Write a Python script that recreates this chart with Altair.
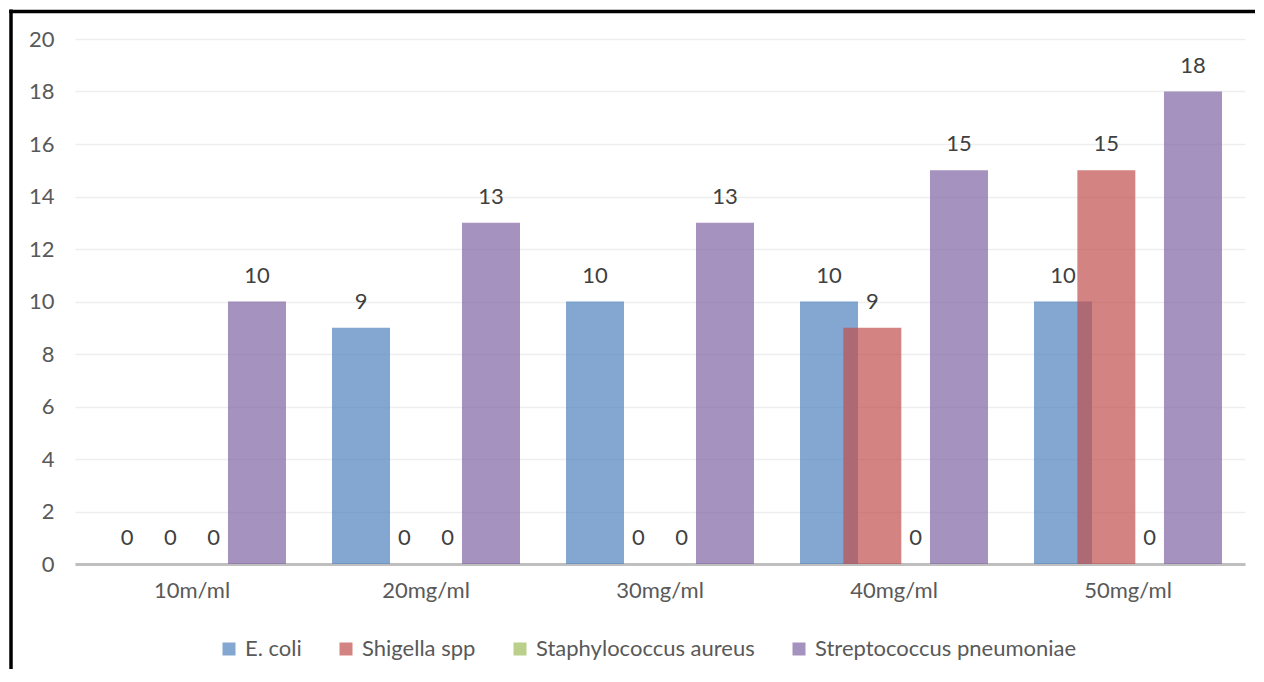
import altair as alt
import pandas as pd

categories = ["10m/ml", "20mg/ml", "30mg/ml", "40mg/ml", "50mg/ml"]
series = ["E. coli", "Shigella spp", "Staphylococcus aureus", "Streptococcus pneumoniae"]
colors = ["#4F81BD", "#C0504D", "#9BBB59", "#8064A2"]
ecoli = [0, 9, 10, 10, 10]
shigella = [0, 0, 0, 9, 15]
staph = [0, 0, 0, 0, 0]
strep = [10, 13, 13, 15, 18]
y_ticks = [0, 2, 4, 6, 8, 10, 12, 14, 16, 18, 20]

rows = []
for i, c in enumerate(categories):
    for s, vals in zip(series, [ecoli, shigella, staph, strep]):
        rows.append({"cat": c, "series": s, "value": vals[i], "order": series.index(s)})
df = pd.DataFrame(rows)

W, H = 1170, 525
PAD = {"left": 67, "top": 31, "right": 10, "bottom": 105}
FONT = "Lato"

x_enc = alt.X("cat:N", sort=categories, title=None,
              scale=alt.Scale(paddingInner=0.2594, paddingOuter=0.1297),
              axis=alt.Axis(labelAngle=0, labelFontSize=22, labelColor="#595959",
                            labelFont=FONT, ticks=False, domainColor="#BFBFBF",
                            domainWidth=3, labelPadding=16, grid=False))
xo_enc = alt.XOffset("series:N", sort=series,
                     scale=alt.Scale(paddingInner=0, paddingOuter=0))
y_enc = alt.Y("value:Q", title=None,
              scale=alt.Scale(domain=[0, 20], nice=False),
              axis=alt.Axis(values=y_ticks, labelFontSize=22, labelColor="#595959",
                            labelFont=FONT, ticks=False, domain=False,
                            gridColor="#EEEEEE", gridWidth=1.5, labelPadding=21))

bars = alt.Chart(df).mark_bar(width=58, opacity=0.7).encode(
    x=x_enc,
    xOffset=xo_enc,
    y=y_enc,
    color=alt.Color("series:N", sort=series,
                    scale=alt.Scale(domain=series, range=colors),
                    legend=alt.Legend(title=None, orient="none", direction="horizontal",
                                      columns=4, legendX=143, legendY=599,
                                      symbolType="square", symbolSize=169,
                                      symbolStrokeWidth=0, symbolOpacity=0.7,
                                      labelFontSize=22, labelFont=FONT,
                                      labelColor="#595959", labelOffset=5,
                                      columnPadding=33, labelLimit=400)),
    order=alt.Order("order:Q"),
)

labels = alt.Chart(df).mark_text(fontSize=22, font=FONT, color="#404040",
                                 baseline="alphabetic", dy=-19).encode(
    x=alt.X("cat:N", sort=categories),
    xOffset=alt.XOffset("series:N", sort=series),
    y="value:Q",
    text="value:Q",
)

frame_df = pd.DataFrame({"f": [0]})
left_rule = alt.Chart(frame_df).mark_rule(color="black", strokeWidth=3.5).encode(
    x=alt.value(-64), y=alt.value(-29.5), y2=alt.value(H + PAD["bottom"]))
top_rule = alt.Chart(frame_df).mark_rule(color="black", strokeWidth=3.5).encode(
    x=alt.value(-65.75), x2=alt.value(W + PAD["right"]), y=alt.value(-27.5))

chart = alt.layer(bars, labels, left_rule, top_rule).properties(
    width=W, height=H, padding=PAD, autosize="none", background="white"
).configure_view(stroke=None)

chart.save("out.html", embed_options={"renderer": "svg", "actions": False})
